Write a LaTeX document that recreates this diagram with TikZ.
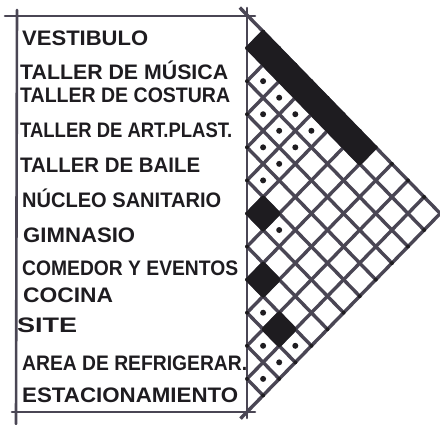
\documentclass[tikz,border=0pt]{standalone}
\usepackage{fontspec}
\setmainfont{Liberation Sans}
\usepackage{tikz,tkz-euclide}
\usetikzlibrary{calc}

\definecolor{pencil}{RGB}{74,70,84}
\definecolor{marker}{RGB}{30,28,32}

\newlength\lblwd
\newcommand\fitlbl[2]{\settowidth\lblwd{#2}%
  \pgfmathsetmacro\lblsx{#1/\lblwd}\scalebox{\lblsx}[1]{#2}}

\tikzset{
  boxline/.style={pencil,line width=2.6pt},
  gridline/.style={pencil,line width=3.4pt},
  lbl/.style={anchor=base west,inner sep=0pt,text=marker,
    font=\bfseries\fontsize{21}{21}\selectfont},
  cellfill/.style={fill=marker,draw=marker,line width=3pt,line join=round},
}

\begin{document}
\begin{tikzpicture}[x=1pt,y=-1pt]
	\useasboundingbox (0,0) rectangle (440,424);
	% espacios
	\foreach \nm/\xl/\yb/\tw/\txt in {
		vest/22/45/126/VESTIBULO,
		musica/20/79/208/TALLER DE MÚSICA,
		costura/20/102/210/TALLER DE COSTURA,
		plast/20/137/212/TALLER DE ART.PLAST.,
		baile/20/172/180/TALLER DE BAILE,
		nucleo/22/207/199/NÚCLEO SANITARIO,
		gimnasio/23/242/112/GIMNASIO,
		comedor/22/275/216/COMEDOR Y EVENTOS,
		cocina/23/302/90/COCINA,
		site/17/332/60/SITE,
		area/22/370/225/AREA DE REFRIGERAR.,
		estac/22/402/216/ESTACIONAMIENTO}
		\node[lbl] (\nm) at (\xl,\yb) {\fitlbl{\tw}{\txt}};
	% marco
	\tkzDefPoints{5/16/a1,255/16/a2,17/10/b1,16/424/b2,12/412/c1,255/412/c2,247/8/d1,247/418/d2}
	\tkzDrawSegments[boxline](a1,a2 b1,b2 c1,c2 d1,d2)
	% matriz
	\begin{scope}[shift={(247,15)},x=16.1pt,y=-16.54pt]
		\foreach \k in {0,...,12}{
			\draw[gridline] (0,2*\k) -- (12-\k,12+\k);
			\draw[gridline] (0,2*\k) -- (\k,\k);
		}
		\draw[gridline] (-0.45,-0.45) -- (0,0);
		\draw[gridline] (0,24) -- (-0.4,24.4);
		\foreach \k in {1,...,11}{
			\fill[marker] (0,2*\k) circle[radius=2pt];
			\fill[marker] (12-\k,12+\k) circle[radius=2pt];
			\fill[marker] (\k,\k) circle[radius=2pt];
		}
		% relacion directa
		\filldraw[cellfill] (0,2) -- (1,1) -- (8,8) -- (7,9) -- cycle;
		\foreach \i/\j in {5/6,7/8,8/10}
			\filldraw[cellfill] ({\j-\i-1},{\i+\j+1}) -- ++(1,-1) -- ++(1,1) -- ++(-1,1) -- cycle;
		% relacion indirecta
		\foreach \i/\j in {1/2,1/3,1/4,1/5,2/3,2/4,2/5,3/4,3/5,4/5,5/7,8/9,9/10,8/11,9/11,10/11}
			\fill[marker] ({\j-\i},{\i+\j+1}) circle[radius=3pt];
	\end{scope}
\end{tikzpicture}
\end{document}
